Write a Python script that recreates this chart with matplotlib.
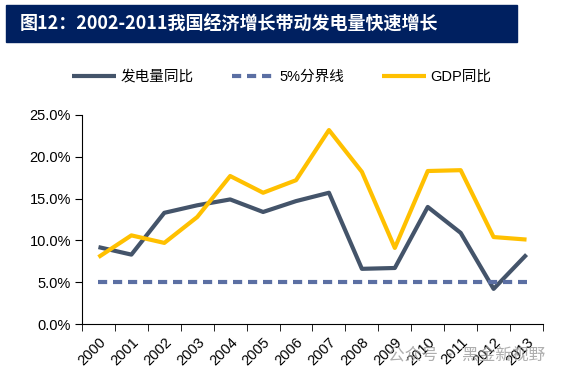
import matplotlib
matplotlib.use('Agg')
import matplotlib.pyplot as plt
import numpy as np
from matplotlib.patches import Rectangle
from matplotlib.ticker import FuncFormatter

plt.rcParams['font.family'] = ['Liberation Sans', 'Noto Sans CJK SC', 'DejaVu Sans']

# data
years = [str(y) for y in range(2000, 2014)]
power_yoy = [9.2, 8.3, 13.3, 14.2, 14.9, 13.4, 14.7, 15.7, 6.6, 6.7, 14.0, 10.9, 4.2, 8.3]
gdp_yoy = [8.0, 10.6, 9.7, 12.8, 17.7, 15.7, 17.2, 23.2, 18.2, 9.1, 18.3, 18.4, 10.4, 10.1]
threshold = [5.0] * len(years)

title = '图12：2002-2011我国经济增长带动发电量快速增长'
labels = ['发电量同比', '5%分界线', 'GDP同比']

fig = plt.figure(figsize=(5.64, 3.8), dpi=100)

# title band
fig.patches.append(Rectangle((6 / 564, 1 - 42 / 380), 511 / 564, 37 / 380,
                             transform=fig.transFigure, color='#002060', zorder=0))
fig.text(20 / 564, 1 - 24 / 380, title, color='white', fontsize=13, fontweight='bold',
         va='center', ha='left', family=['Noto Sans CJK SC', 'DejaVu Sans'])

ax = fig.add_axes([82 / 564, 1 - 324 / 380, 461 / 564, 209 / 380])
x = np.arange(len(years))

ax.plot(x, power_yoy, color='#44546a', lw=3, label=labels[0], solid_capstyle='butt')
ax.plot(x, threshold, color='#5b6fa3', lw=3, ls=(0, (2.2, 1.4)), label=labels[1])
ax.plot(x, gdp_yoy, color='#ffc000', lw=3, label=labels[2], solid_capstyle='butt')

ax.set_xlim(-0.5, len(years) - 0.5)
ax.set_ylim(0, 25)
ax.set_yticks(np.arange(0, 26, 5))
ax.yaxis.set_major_formatter(FuncFormatter(lambda v, p: f'{v:.1f}%'))
ax.set_xticks(x)
ax.set_xticklabels(years, rotation=45, ha='right', rotation_mode='anchor')
ax.set_xticks(np.arange(-0.5, len(years)), minor=True)
ax.tick_params(axis='x', which='major', length=0, pad=8, labelsize=10.5)
ax.tick_params(axis='x', which='minor', length=5, direction='out')
ax.tick_params(axis='y', length=5, direction='out', labelsize=10.5, pad=3)

for s in ['top', 'right']:
    ax.spines[s].set_visible(False)

fig.legend(loc='center', bbox_to_anchor=(282 / 564, 1 - 77 / 380), ncol=3, frameon=False,
           fontsize=10.5, handlelength=3.0, columnspacing=2.6, handletextpad=0.3,
           prop={'family': ['Liberation Sans', 'Noto Sans CJK SC'], 'size': 10.5})

# watermark
fig.text(545 / 564, 1 - 355 / 380, '公众号 · 黑金新视野', color='#9a9a9a', alpha=0.8,
         fontsize=12, ha='right', va='center', family=['Noto Sans CJK SC', 'DejaVu Sans'])

fig.savefig('out.png', dpi=100)
